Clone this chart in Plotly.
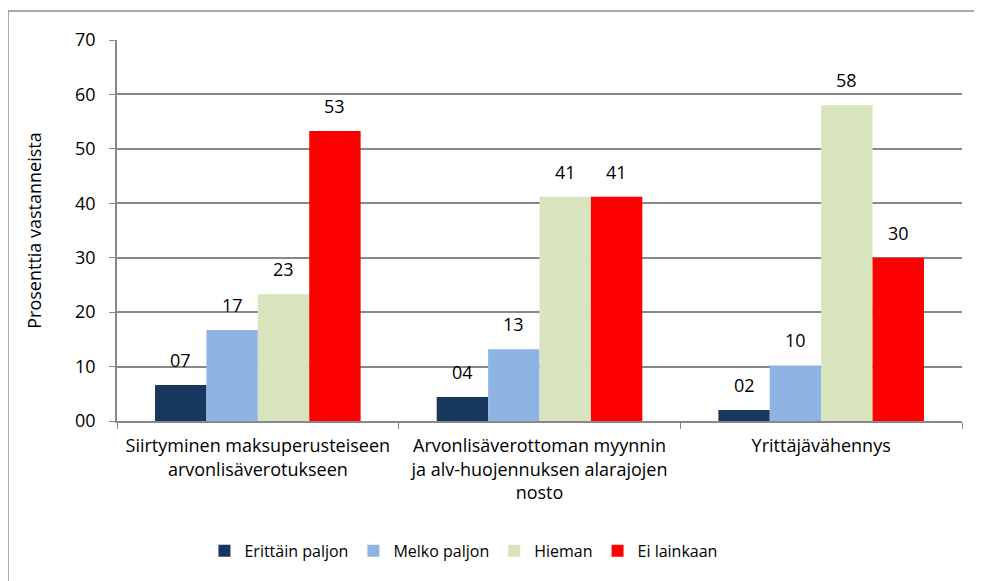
import plotly.graph_objects as go

categories = ["Siirtyminen maksuperusteiseen<br>arvonlisäverotukseen",
              "Arvonlisäverottoman myynnin<br>ja alv-huojennuksen alarajojen<br>nosto",
              "Yrittäjävähennys"]
series_names = ["Erittäin paljon", "Melko paljon", "Hieman", "Ei lainkaan"]
erittain = [6.6, 4.4, 2.0]
melko = [16.7, 13.2, 10.2]
hieman = [23.3, 41.2, 58.0]
ei_lainkaan = [53.3, 41.2, 30.0]
colors = ["#17375E", "#8EB4E3", "#D7E4BD", "#FF0000"]

font = "Open Sans, sans-serif"
bar_px = 51.3  # bar width in pixels, for label offsets
data = []
labels = []
for i, (name, vals, col) in enumerate(zip(series_names, [erittain, melko, hieman, ei_lainkaan], colors)):
    data.append(go.Bar(x=categories, y=vals, name=name, marker=dict(color=col, line=dict(width=0))))
    for c, v in zip(categories, vals):
        labels.append(dict(x=c, y=v, xref="x", yref="y", text="%02d" % round(v), showarrow=False,
                           yanchor="bottom", yshift=11, xshift=(i - 1.5) * bar_px,
                           font=dict(size=18, color="black", family=font)))

fig = go.Figure(data=data)
fig.update_layout(
    width=974, height=573, barmode="group", bargap=0.27, bargroupgap=0,
    plot_bgcolor="white", paper_bgcolor="white",
    margin=dict(l=109, r=20, t=32, b=160),
    font=dict(family=font, size=18, color="black"),
    legend=dict(orientation="h", x=0.41, xanchor="center", y=-0.341, yanchor="middle",
                font=dict(size=16), traceorder="normal"),
    showlegend=True,
    annotations=labels,
    shapes=[dict(type="rect", xref="paper", yref="paper", x0=-0.129, y0=-0.7, x1=1.2, y1=1.076,
                 line=dict(color="#8c8c8c", width=1.5), layer="below")],
)
fig.update_yaxes(range=[0, 70], dtick=10, tickformat="02d", showgrid=True, gridcolor="#888888", gridwidth=1.5,
                 showline=True, linecolor="#888888", linewidth=1.5, ticks="outside", ticklen=6,
                 tickcolor="#888888", zeroline=False, ticklabelstandoff=10,
                 title=dict(text="Prosenttia vastanneista", font=dict(size=18), standoff=29))
fig.update_xaxes(showline=True, linecolor="#888888", linewidth=1.5, ticks="outside", ticklen=6,
                 tickcolor="#888888", tickson="boundaries", tickangle=0, ticklabelstandoff=8)
fig.write_html("out.html")
